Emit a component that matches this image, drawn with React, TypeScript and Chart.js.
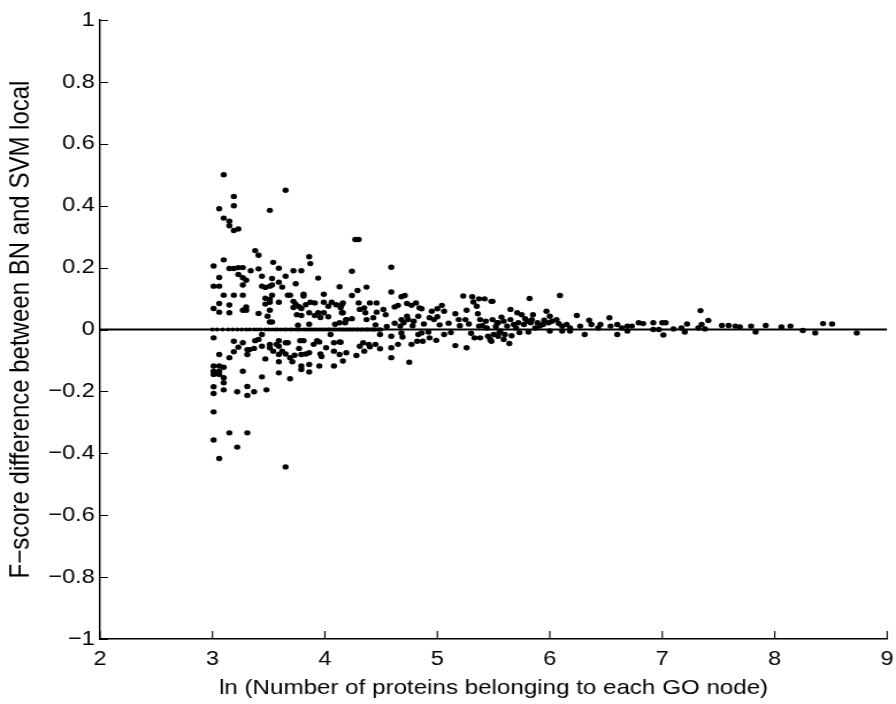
import React, { useEffect, useRef } from "react";
import { Chart, registerables } from "chart.js";

Chart.register(...registerables);

// [ln(number of proteins), F-score difference]
const smallNodesPos: number[][] = [
  [3.10,0.50],[3.65,0.45],[3.19,0.43],[3.19,0.40],[3.06,0.39],[3.51,0.385],[3.10,0.36],[3.15,0.35],
  [3.15,0.335],[3.19,0.32],[3.23,0.325],[3.38,0.255],[3.41,0.24],[3.10,0.225],[3.01,0.205],[3.15,0.197],
  [3.19,0.197],[3.23,0.20],[3.27,0.20],[3.54,0.217],[3.86,0.235],[3.87,0.213],[3.34,0.19],[3.41,0.196],
  [3.59,0.198],[3.72,0.19],[3.79,0.19],[3.06,0.168],[3.23,0.178],[3.27,0.167],[3.30,0.159],[3.44,0.172],
  [3.53,0.165],[3.65,0.172],[3.94,0.166],[3.59,0.153],[3.62,0.137],[3.01,0.14],[3.06,0.14],[3.27,0.144],
  [3.44,0.14],[3.47,0.136],[3.51,0.14],[3.53,0.144],[3.74,0.148],[4.13,0.138],[3.10,0.111],[3.19,0.111],
  [3.27,0.111],[3.47,0.101],[3.53,0.111],[3.51,0.097],[3.67,0.111],[3.69,0.111],[3.81,0.114],[3.81,0.108],
  [3.99,0.114],[3.01,0.068],[3.06,0.084],[3.06,0.056],[3.15,0.079],[3.15,0.054],[3.27,0.062],[3.30,0.073],
  [3.30,0.062],[3.41,0.052],[3.47,0.082],[3.51,0.088],[3.49,0.043],[3.51,0.062],[3.51,0.024],[3.53,0.024],
  [3.59,0.088],[3.72,0.091],[3.74,0.082],[3.72,0.071],[3.77,0.074],[3.79,0.068],[3.75,0.048],[3.79,0.045],
  [3.83,0.080],[3.86,0.054],[3.87,0.088],[3.91,0.086],[3.94,0.054],[3.91,0.045],[3.96,0.039],[3.99,0.088],
  [4.03,0.075],[3.99,0.054],[4.03,0.041],[4.06,0.088],[4.10,0.080],[4.15,0.080],[4.15,0.054],[4.13,0.022],
  [4.18,0.022],[4.19,0.032],[3.76,0.014],[3.86,0.017],[4.09,0.017]
];

const smallNodesNeg: number[][] = [
  [3.01,-0.027],[3.19,-0.038],[3.27,-0.043],[3.23,-0.057],[3.19,-0.072],[3.06,-0.081],[3.15,-0.091],
  [3.31,-0.065],[3.31,-0.081],[3.38,-0.036],[3.41,-0.032],[3.44,-0.016],[3.33,-0.065],[3.37,-0.061],
  [3.44,-0.054],[3.47,-0.095],[3.51,-0.048],[3.51,-0.059],[3.54,-0.070],[3.57,-0.048],[3.59,-0.036],
  [3.59,-0.054],[3.62,-0.070],[3.65,-0.043],[3.67,-0.043],[3.59,-0.081],[3.59,-0.104],[3.65,-0.079],
  [3.69,-0.091],[3.71,-0.104],[3.73,-0.083],[3.78,-0.036],[3.81,-0.036],[3.77,-0.061],[3.79,-0.081],
  [3.83,-0.079],[3.86,-0.075],[3.90,-0.048],[3.93,-0.036],[3.95,-0.040],[3.96,-0.079],[3.97,-0.087],
  [4.01,-0.059],[4.05,-0.016],[4.08,-0.043],[4.13,-0.040],[4.08,-0.070],[4.13,-0.081],[4.19,-0.075],
  [4.16,-0.102],[3.79,-0.118],[3.79,-0.129],[3.86,-0.113],[3.86,-0.137],[3.95,-0.118],[4.08,-0.118],
  [3.59,-0.140],[3.69,-0.159],[3.44,-0.153],[3.27,-0.135],[3.01,-0.118],[3.01,-0.135],[3.01,-0.145],
  [3.06,-0.118],[3.06,-0.135],[3.06,-0.145],[3.10,-0.122],[3.10,-0.156],[3.10,-0.172],[3.10,-0.195],
  [3.01,-0.185],[3.01,-0.207],[3.22,-0.201],[3.31,-0.184],[3.31,-0.213],[3.37,-0.201],[3.48,-0.195],
  [3.01,-0.266],[3.15,-0.334],[3.31,-0.334],[3.01,-0.357],[3.22,-0.380],[3.06,-0.417],[3.65,-0.444]
];

const midNodes: number[][] = [
  [4.27,0.291],[4.30,0.291],[4.24,0.188],[4.59,0.201],[4.24,0.110],[4.29,0.126],[4.37,0.137],[4.16,0.086],
  [4.14,0.070],[4.16,0.054],[4.30,0.086],[4.31,0.065],[4.35,0.070],[4.36,0.054],[4.40,0.086],[4.46,0.086],
  [4.52,0.065],[4.46,0.056],[4.43,0.038],[4.37,0.032],[4.54,0.048],[4.59,0.121],[4.68,0.106],[4.71,0.110],
  [4.62,0.073],[4.65,0.078],[4.73,0.084],[4.77,0.078],[4.81,0.086],[4.84,0.070],[4.86,0.067],[4.95,0.059],
  [5.00,0.067],[5.04,0.078],[5.06,0.059],[5.00,0.041],[4.83,0.043],[4.19,0.032],[4.24,0.035],[4.68,0.032],
  [4.73,0.043],[4.74,0.032],[4.70,0.022],[4.79,0.027],[4.67,0.011],[5.16,0.051],[5.19,0.032],[5.25,0.032],
  [5.23,0.108],[5.31,0.106],[5.32,0.089],[5.37,0.099],[5.42,0.099],[5.49,0.091],[5.26,0.062],[5.35,0.075],
  [5.36,0.051],[5.38,0.032],[5.43,0.027],[5.49,0.032],[5.54,0.022],[5.44,0.005],[5.37,0.011],[4.93,0.038],
  [4.97,0.032],[4.45,0.015],[4.55,0.010],[4.62,0.020],[4.78,0.012],[4.88,0.018],[5.02,0.015],[5.10,0.020],
  [5.20,0.012],[5.28,0.018],[5.40,0.012],
  [4.14,-0.041],[4.28,-0.084],[4.34,-0.043],[4.31,-0.054],[4.39,-0.048],[4.35,-0.070],[4.45,-0.048],
  [4.49,-0.062],[4.40,-0.056],[4.49,-0.016],[4.59,-0.022],[4.68,-0.011],[4.69,-0.024],[4.59,-0.059],
  [4.65,-0.048],[4.59,-0.091],[4.75,-0.106],[4.77,-0.048],[4.82,-0.038],[4.87,-0.038],[4.93,-0.027],
  [4.99,-0.035],[5.06,-0.016],[5.16,-0.052],[5.26,-0.059],[5.33,-0.027],[5.38,-0.027],[5.45,-0.022],
  [5.48,-0.038],[4.83,-0.016],[4.86,-0.011],[4.92,-0.008],[5.12,-0.010],[5.30,-0.012]
];

const largeNodes: number[][] = [
  [5.48,0.091],[5.82,0.100],[6.09,0.110],[5.65,0.065],[5.71,0.054],[5.75,0.048],[5.85,0.048],[5.97,0.059],
  [6.00,0.043],[6.24,0.045],[6.35,0.030],[6.53,0.038],[5.53,0.022],[5.59,0.027],[5.62,0.011],[5.65,0.032],
  [5.68,0.016],[5.72,0.022],[5.77,0.016],[5.80,0.027],[5.83,0.022],[5.84,0.032],[5.89,0.022],[5.91,0.011],
  [5.94,0.016],[5.99,0.022],[6.02,0.027],[6.06,0.032],[6.08,0.019],[6.11,0.011],[6.15,0.016],[6.18,0.005],
  [6.27,0.011],[6.37,0.016],[6.43,0.005],[6.45,0.016],[6.54,0.011],[6.60,0.016],[6.64,0.005],[6.69,0.011],
  [6.73,0.011],[6.79,0.022],[6.83,0.019],[5.52,0.010],[5.57,0.040],[5.70,0.005],[5.78,0.035],[5.87,0.005],
  [5.95,0.030],
  [5.47,-0.032],[5.50,-0.016],[5.54,-0.022],[5.59,-0.032],[5.60,-0.016],[5.64,-0.045],[5.56,-0.005],
  [6.00,-0.005],[6.11,-0.005],[6.18,-0.005],[6.31,-0.016],[6.60,-0.016],[6.69,-0.005],[5.55,-0.010],
  [5.66,-0.020],[5.73,-0.010],[5.81,-0.008],
  [7.34,0.061],[7.41,0.029],[6.92,0.022],[6.92,0.000],[6.97,0.000],[7.00,0.022],[7.03,0.022],[7.01,-0.018],
  [7.10,0.002],[7.17,0.005],[7.22,0.018],[7.20,-0.008],[7.32,0.005],[7.35,0.016],[7.38,0.002],[7.53,0.013],
  [7.59,0.013],[7.65,0.011],[7.69,0.008],[7.79,0.011],[7.83,-0.008],[7.92,0.013],[8.06,0.008],[8.14,0.011],
  [8.25,-0.003],[8.36,-0.011],[8.43,0.019],[8.51,0.018],[8.73,-0.011]
];

// GO nodes whose difference is exactly zero (dotted row along the zero line)
const zeroDiffLn: number[] = [
  3.00,3.04,3.09,3.14,3.18,3.22,3.26,3.30,3.33,3.37,3.40,3.43,3.47,3.50,3.53,3.56,3.58,3.61,3.64,3.66,
  3.69,3.71,3.74,3.76,3.78,3.81,3.83,3.85,3.87,3.89,3.91,3.93,3.95,3.97,3.99,4.01,4.03,4.04,4.06,4.08,
  4.09,4.11,4.13,4.14,4.16,4.17,4.19,4.20,4.22,4.23,4.25,4.26,4.28,4.29,4.30,4.32,4.33,4.34,4.36,4.37,
  4.38,4.39,4.41,4.42,4.43,4.44,4.45,4.47,4.48,4.49,4.50
];

const xTicks = [2, 3, 4, 5, 6, 7, 8, 9];
const yTicks = [-1, -0.8, -0.6, -0.4, -0.2, 0, 0.2, 0.4, 0.6, 0.8, 1];
const referenceLine = [{ x: 2, y: 0 }, { x: 9, y: 0 }];

const FONT = "'Liberation Sans', Arial, Helvetica, sans-serif";
// the reference figure's glyphs are wider than tall; draw narrower and stretch horizontally
const SX = 1.15;
const VIEW_W = 896;
const VIEW_H = 704;
const CANVAS_W = Math.round(VIEW_W / SX);

const inwardTicks = {
  id: "inwardTicks",
  afterDraw(chart: any) {
    const { ctx, chartArea, scales } = chart;
    ctx.save();
    ctx.strokeStyle = "#000";
    ctx.lineWidth = 1.1;
    ctx.beginPath();
    for (const v of xTicks) {
      const px = scales.x.getPixelForValue(v);
      ctx.moveTo(px, chartArea.bottom);
      ctx.lineTo(px, chartArea.bottom - 8);
    }
    for (const v of yTicks) {
      const py = Math.round(scales.y.getPixelForValue(v)) + 0.5;
      ctx.moveTo(chartArea.left, py);
      ctx.lineTo(chartArea.left + 7, py);
    }
    ctx.stroke();
    ctx.restore();
  },
};

const toPts = (arr: number[][]) => arr.map(([x, y]) => ({ x, y }));

export default function App() {
  const ref = useRef<HTMLCanvasElement>(null);
  useEffect(() => {
    if (!ref.current) return;
    const dotStyle = {
      backgroundColor: "#000",
      borderColor: "#000",
      borderWidth: 0,
      pointRadius: 2.7,
      showLine: false,
    };
    const chart = new Chart(ref.current, {
      type: "scatter",
      data: {
        datasets: [
          {
            type: "line",
            data: referenceLine,
            borderColor: "#000",
            borderWidth: 2,
            pointRadius: 0,
            fill: false,
          } as any,
          { data: zeroDiffLn.map((x) => ({ x, y: 0 })), ...dotStyle, pointRadius: 2 },
          { data: toPts(smallNodesPos), ...dotStyle },
          { data: toPts(smallNodesNeg), ...dotStyle },
          { data: toPts(midNodes), ...dotStyle },
          { data: toPts(largeNodes), ...dotStyle },
        ],
      },
      options: {
        responsive: false,
        animation: false,
        devicePixelRatio: 1,
        layout: { padding: { top: 20, right: CANVAS_W - 887 / SX, left: 0, bottom: 0 } },
        plugins: { legend: { display: false }, tooltip: { enabled: false } },
        scales: {
          x: {
            type: "linear",
            min: 2,
            max: 9,
            afterBuildTicks: (s: any) => {
              s.ticks = xTicks.map((v) => ({ value: v }));
            },
            afterFit: (s: any) => {
              s.height = 65;
            },
            grid: { display: false, drawTicks: true, tickLength: 8 },
            border: { display: true, color: "#000", width: 1.5 },
            ticks: {
              color: "#000",
              padding: 0,
              font: { family: FONT, size: 20.5 },
              maxRotation: 0,
              callback: (v: any) => String(v),
            },
            title: {
              display: true,
              text: "ln (Number of proteins belonging to each GO node)",
              color: "#000",
              font: { family: FONT, size: 21 },
              padding: { top: 0, bottom: 3 },
            },
          },
          y: {
            type: "linear",
            min: -1,
            max: 1,
            afterBuildTicks: (s: any) => {
              s.ticks = yTicks.map((v) => ({ value: v }));
            },
            afterFit: (s: any) => {
              s.width = 100 / SX;
            },
            grid: { display: false, drawTicks: false },
            border: { display: true, color: "#000", width: 1.4 },
            ticks: {
              color: "#000",
              padding: 4.5,
              font: { family: FONT, size: 20.5 },
              callback: (v: any) => {
                const n = Number(Number(v).toFixed(1));
                return n < 0 ? "\u2212" + String(Math.abs(n)) : String(n);
              },
            },
            title: {
              display: true,
              text: "F\u2212score difference between BN and SVM local",
              color: "#000",
              font: { family: FONT, size: 24 },
              padding: { top: 4, bottom: 0 },
            },
          },
        },
      },
      plugins: [inwardTicks],
    });
    return () => chart.destroy();
  }, []);

  return (
    <div style={{ position: "fixed", left: 0, top: 0, width: VIEW_W, height: VIEW_H, background: "#fff" }}>
      <canvas
        ref={ref}
        width={CANVAS_W}
        height={VIEW_H}
        style={{ display: "block", width: VIEW_W + "px", height: VIEW_H + "px" }}
      />
    </div>
  );
}
